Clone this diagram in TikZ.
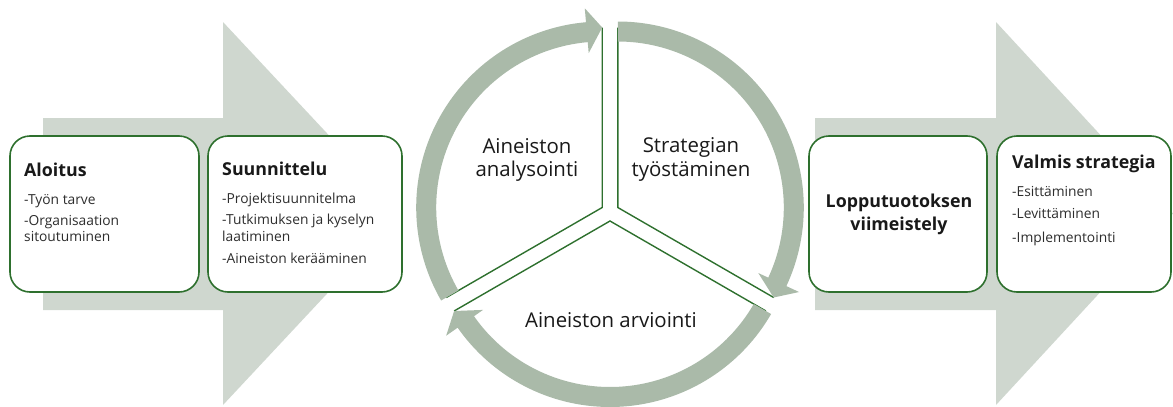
\documentclass[tikz,border=0pt]{standalone}
\usepackage{fontspec}
\usetikzlibrary{calc}
\setmainfont{Open Sans}
\definecolor{flowbg}{RGB}{207,215,207}
\definecolor{ringgray}{RGB}{170,186,169}
\definecolor{boxgreen}{RGB}{46,112,46}
\definecolor{inktext}{RGB}{25,25,25}
\definecolor{itemtext}{RGB}{45,45,45}

% curved ring arrow around a sector apex (#1,#2), from angle #3 to the tip at angle #4
\newcommand{\ringarrow}[4]{%
  \pgfmathsetmacro{\headang}{#4-5}%
  \begin{scope}[shift={(#1,#2)}]
    \fill[ringgray] (#3:186) arc[start angle=#3, end angle=\headang, radius=186]
      -- (\headang:200) -- (#4:180) -- (\headang:155) -- (\headang:166)
      arc[start angle=\headang, end angle=#3, radius=166] -- cycle;
  \end{scope}}

\tikzset{
  stagebox/.style={draw=boxgreen, line width=1.6pt, fill=white, rounded corners=20pt,
    minimum width=#1, minimum height=156pt, inner sep=0pt},
  titletxt/.style={inner sep=0pt, text=inktext, font=\bfseries\fontsize{17.8}{20}\selectfont},
  itemtxt/.style={inner sep=0pt, text=itemtext, font=\fontsize{13.8}{16}\selectfont},
  cycletxt/.style={inner sep=0pt, text=inktext, font=\fontsize{20.4}{24}\selectfont},
  edge/.style={draw=boxgreen, line width=1.4pt}
}

\begin{document}
\begin{tikzpicture}[x=1pt,y=-1pt]
\useasboundingbox (0,0) rectangle (1173,407);

% broad background arrows
\fill[flowbg] (43,118) -- (223,118) -- (223,22) -- (402,213.5) -- (223,405) -- (223,310) -- (43,310) -- cycle;
\fill[flowbg] (815,118) -- (996,118) -- (996,22) -- (1173,213.5) -- (996,405) -- (996,310) -- (815,310) -- cycle;

% stage boxes
\node[stagebox=189pt] (aloitus) at (104.5,214) {};
\node[stagebox=194pt] (suunnittelu) at (305,214) {};
\node[stagebox=178pt] (lopputuotos) at (898,214) {};
\node[stagebox=174pt] (valmis) at (1084,214) {};

% cycle sectors: apexes
\coordinate (pUL) at (602.2,207.5);
\coordinate (pUR) at (617.8,207.5);
\coordinate (pB) at (610,221);
\coordinate (eULt) at ($(pUL)+(270:180)$);
\coordinate (eULb) at ($(pUL)+(150:180)$);
\coordinate (eURt) at ($(pUR)+(270:180)$);
\coordinate (eURb) at ($(pUR)+(30:180)$);
\coordinate (eBr) at ($(pB)+(30:180)$);
\coordinate (eBl) at ($(pB)+(150:180)$);
\draw[edge] (eULt) -- (pUL) -- (eULb);
\draw[edge] (eURt) -- (pUR) -- (eURb);
\draw[edge] (eBr) -- (pB) -- (eBl);

% ring arrows
\ringarrow{602.2}{207.5}{150}{270}
\ringarrow{617.8}{207.5}{270}{390}
\ringarrow{610}{221}{30}{150}

% cycle labels
\node[cycletxt, anchor=base] (ana1) at (527,153) {Aineiston};
\node[cycletxt, anchor=base] (ana2) at (527,176) {analysointi};
\node[cycletxt, anchor=base] (str1) at (691,152) {Strategian};
\node[cycletxt, anchor=base] (str2) at (691,176) {työstäminen};
\node[cycletxt, anchor=base] (arv) at (611,327) {Aineiston arviointi};

% Aloitus
\node[titletxt, anchor=base west] (t1) at (24,176) {Aloitus};
\node[itemtxt, anchor=base west] (t1a) at (24,204) {-Työn tarve};
\node[itemtxt, anchor=base west] (t1b) at (24,225) {-Organisaation};
\node[itemtxt, anchor=base west] (t1c) at (24,241) {sitoutuminen};

% Suunnittelu
\node[titletxt, anchor=base west] (t2) at (222,175) {Suunnittelu};
\node[itemtxt, anchor=base west] (t2a) at (222,203) {-Projektisuunnitelma};
\node[itemtxt, anchor=base west] (t2b) at (222,224) {-Tutkimuksen ja kyselyn};
\node[itemtxt, anchor=base west] (t2c) at (222,241) {laatiminen};
\node[itemtxt, anchor=base west] (t2d) at (222,263) {-Aineiston kerääminen};

% Lopputuotoksen viimeistely
\node[titletxt, anchor=base] (t3a) at (899,207) {Lopputuotoksen};
\node[titletxt, anchor=base] (t3b) at (899,230) {viimeistely};

% Valmis strategia
\node[titletxt, anchor=base west] (t4) at (1012,168) {Valmis strategia};
\node[itemtxt, anchor=base west] (t4a) at (1012,196) {-Esittäminen};
\node[itemtxt, anchor=base west] (t4b) at (1012,218) {-Levittäminen};
\node[itemtxt, anchor=base west] (t4c) at (1012,242) {-Implementointi};
\end{tikzpicture}
\end{document}
